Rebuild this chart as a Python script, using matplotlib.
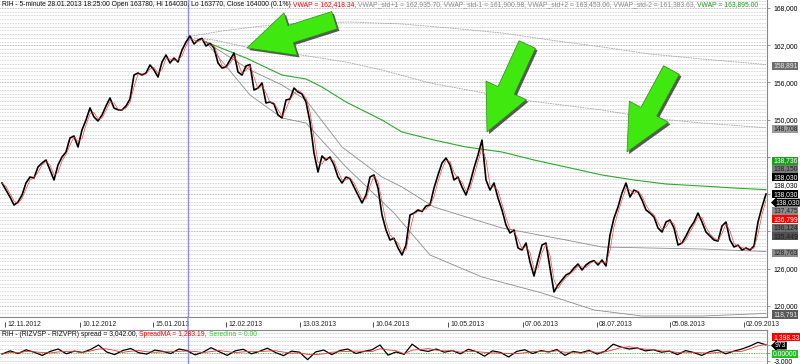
import numpy as np
import pandas as pd
import matplotlib
matplotlib.use("Agg")
import matplotlib.pyplot as plt
import matplotlib.patheffects as pe
from matplotlib.patches import ConnectionPatch
from matplotlib.ticker import MultipleLocator, FuncFormatter

plt.rcParams['font.family'] = ['Liberation Sans', 'DejaVu Sans']

# RIH closes, one value per ~4px of the original 5-minute chart (thousands)
close_k = [
    139.81, 138.68, 137.55, 136.26, 136.75, 137.87, 139.81, 140.77, 140.61, 142.39,
    143.03, 143.51, 141.90, 140.29, 142.71, 144.00, 144.80, 147.06, 147.38, 145.61,
    148.35, 149.96, 151.89, 150.44, 149.80, 150.76, 152.21, 153.50, 151.89, 151.60,
    151.57, 152.21, 153.34, 157.21, 157.53, 157.21, 157.53, 158.82, 158.01, 156.88,
    159.30, 160.43, 159.14, 159.94, 159.30, 161.23, 162.52, 163.49, 162.20, 162.84,
    163.10, 161.88, 162.30, 161.56, 159.14, 158.33, 158.50, 159.62, 160.75, 157.69,
    157.20, 158.66, 158.90, 154.79, 155.11, 155.92, 152.70, 152.86, 152.53, 150.76,
    150.30, 153.18, 153.34, 155.11, 154.47, 154.15, 152.86, 149.63, 144.64, 141.58,
    144.16, 143.51, 144.00, 142.71, 140.77, 139.81, 140.77, 140.50, 139.16, 137.87,
    136.59, 137.87, 140.77, 141.10, 139.00, 134.65, 132.24, 130.62, 130.90, 129.34,
    128.21, 129.82, 134.65, 134.97, 135.46, 135.20, 136.10, 136.26, 139.00, 141.10,
    143.03, 143.83, 142.71, 140.29, 140.77, 139.16, 137.87, 139.81, 142.22, 144.32,
    146.73, 140.29, 138.68, 139.81, 137.39, 135.46, 133.04, 131.75, 132.24, 129.34,
    129.01, 130.14, 127.08, 124.83, 127.40, 129.82, 130.14, 126.11, 122.25, 123.38,
    124.18, 124.99, 125.31, 126.11, 126.76, 125.79, 126.60, 127.08, 127.30, 126.60,
    127.40, 126.44, 131.43, 134.17, 135.94, 138.20, 139.81, 137.55, 138.68, 138.36,
    137.07, 135.46, 134.97, 134.33, 132.56, 131.91, 133.52, 133.85, 132.56, 129.82,
    130.14, 131.27, 132.56, 133.52, 134.97, 133.52, 131.91, 131.27, 130.62, 130.46,
    132.88, 133.52, 130.62, 129.50, 129.80, 129.01, 129.34, 129.01, 129.66, 133.52,
    135.94, 138.03,
]

date_labels = ['12.11.2012', '10.12.2012', '15.01.2013', '12.02.2013', '13.03.2013',
               '10.04.2013', '10.05.2013', '07.06.2013', '08.07.2013', '05.08.2013',
               '02.09.2013']
date_bars = [0.75, 19.5, 37.75, 56, 74.5, 92.75, 111.5, 130.25, 148.75, 167, 185.5]
cursor_bar = 46.5

# anchored VWAP and its deviation bands
vwap_bars = [51, 61, 70, 76, 80, 86, 95, 100, 108, 116, 125, 133, 141, 150, 158, 166, 175, 183, 191]
vwap = [162523, 159945, 157206, 156562, 155273, 152857, 149957, 148024, 146735, 145607,
        144802, 143513, 142385, 141097, 140291, 139646, 139324, 139002, 138736]

std_p2_bars = [46, 55, 65, 75, 87, 100, 112, 125, 137, 150, 162, 175, 191]
std_p2 = [163328, 164295, 165100, 165584, 165745, 165422, 164778, 163973, 162845,
          161717, 160589, 159784, 158891]

std_p1_bars = [48, 53, 61, 70, 78, 86, 95, 107, 130, 150, 162, 175, 191]
std_p1 = [163167, 162845, 161717, 160912, 160106, 159301, 158012, 155918, 153179,
          151568, 150279, 149474, 148708]

std_m1_bars = [51, 62, 70, 76, 85, 95, 100, 108, 125, 141, 150, 162, 175, 191]
std_m1 = [162523, 158012, 155595, 153179, 145607, 140774, 139163, 135941, 132558,
          130625, 129497, 129336, 129174, 128763]

std_m2_bars = [51, 62, 70, 76, 86, 98, 107, 120, 135, 148, 160, 175, 191]
std_m2 = [162523, 153984, 150279, 149474, 142385, 134975, 128209, 124665, 122087,
          119348, 118381, 118381, 118791]

# last-value markers on the price scale
mark_values = [158891, 148708, 138736, 138150, 138030, 138030, 138030, 138030,
               137475, 136799, 136124, 135449, 128763, 118791]
mark_faces = ['#6e6e6e', '#9c9c9c', '#1e9e1e', '#7c7c7c', '#000000', '#ffffff', '#000000',
              '#000000', '#8c8c8c', '#ff0000', '#6c6c6c', '#505050', '#8c8c8c', '#5a5a5a']
mark_text = ['#e8e8e8', '#202020', 'white', '#202020', 'white', 'black', 'white',
             'white', '#202020', 'white', '#202020', '#202020', '#202020', '#e0e0e0']
last_price_mark = 7

# spread RIZVSP - RIZVPR
spread = [
    -400, 800, -200, 1200, 300, -900, 600, 1500, -300, 700,
    200, 1300, 3000, 400, -600, 900, 1700, 100, -400, 1100,
    600, -200, 1500, 900, -700, 300, 2000, 500, -900, 800,
    1400, -300, 600, 1800, 200, -1000, 700, 300, -2500, 400,
    1100, -600, 900, 1500, -200, 600, 1200, 3000, -800, 400,
    -500, 3300, 1100, 600, 1500, 300, 900, -300, 1400, 500,
    -1200, 800, 200, -1500, 600, 1200, -200, 900, 400, 1300,
    -900, 600, 100, 1000, -400, 700, 3300, 2200, 1500, 1900,
    800, 1200, 300, 700, -600, 900, 200, -900, 500, 1100,
    -300, 700, 1500, 2600, 4000, 3042,
]
spread_marks = [1398.33, 973, 0.0]
spread_mark_texts = ['1,398.33', '973', '0.00000']
spread_mark_faces = ['#ff0000', '#000000', '#22bb22']

# arrows: (bar, price) target, tail offset in points
arrow_tips = [(61.25, 161560), (121.25, 148020), (156.25, 144800)]
arrow_tails = [(63, 20), (29, 63), (32, 59)]

FS = 4.9
HFS = 4.85
GRAY = '#888888'
SLOT = 8.4


def stack_positions(ax, values, h, mode='center'):
    """Spread overlapping value labels apart, in display pixels."""
    pts = np.column_stack([np.zeros(len(values)), values])
    ys = ax.transData.transform(pts)[:, 1]
    order = sorted(range(len(values)), key=lambda i: -ys[i])
    groups = [[i] for i in order]

    def place(g):
        n = len(g)
        if mode == 'up':
            base = ys[g[-1]]
            return [base + (n - 1 - k) * h for k in range(n)]
        c = np.mean([ys[i] for i in g])
        return [c + ((n - 1) / 2 - k) * h for k in range(n)]

    merged = True
    while merged:
        merged = False
        for j in range(len(groups) - 1):
            if place(groups[j])[-1] - place(groups[j + 1])[0] < h:
                groups[j] = groups[j] + groups[j + 1]
                del groups[j + 1]
                merged = True
                break
    out = {}
    for g in groups:
        for i, y in zip(g, place(g)):
            out[i] = y
    return [out[i] for i in range(len(values))]


def value_labels(ax, values, texts, faces, tcolors, arrow_idx, mode='center'):
    ys = stack_positions(ax, values, SLOT, mode)
    inv = ax.transAxes.inverted()
    for i, y in enumerate(ys):
        yf = inv.transform((0, y))[1]
        style = 'larrow,pad=0.06' if i == arrow_idx else 'square,pad=0.08'
        dx = 8 if i == arrow_idx else 6
        ax.annotate(texts[i], xy=(1, yf), xycoords='axes fraction',
                    xytext=(dx, 0), textcoords='offset pixels',
                    ha='left', va='center_baseline', fontsize=FS, color=tcolors[i],
                    bbox=dict(boxstyle=style, fc=faces[i], ec='none'),
                    annotation_clip=False, zorder=10)
    # tick labels sitting under a marker box stay hidden, as in the terminal
    hidden = set()
    for t in ax.get_yticks():
        ty = ax.transData.transform((0, t))[1]
        if min(abs(ty - y) for y in ys) < SLOT * 0.8:
            hidden.add(round(t))
    ax.yaxis.set_major_formatter(
        FuncFormatter(lambda v, p: '' if round(v) in hidden else f'{v:,.0f}'))


def header(ax, parts, dy):
    prev = ax.annotate(parts[0][0], xy=(0, 1), xycoords='axes fraction',
                       xytext=(2, dy), textcoords='offset pixels',
                       ha='left', va='top', fontsize=HFS, color=parts[0][1], zorder=12)
    for txt, col in parts[1:]:
        prev = ax.annotate(txt, xy=(1, 0), xycoords=prev, ha='left', va='bottom',
                           fontsize=HFS, color=col, zorder=12)


fig = plt.figure(figsize=(8, 3.64), dpi=100)
ax = fig.add_axes([0, 47 / 364, 767 / 800, 317 / 364])
ax2 = fig.add_axes([0, -2 / 364, 767 / 800, 36 / 364])

close = np.array(close_k) * 1000
bars = np.arange(len(close))
ma = pd.Series(close).rolling(2, min_periods=1).mean()

# --- main panel
ax.set_xlim(-0.5, 191.25)
ax.set_ylim(118220, 169290)
ax.yaxis.set_major_locator(MultipleLocator(6000))
ax.yaxis.set_minor_locator(MultipleLocator(600))
ax.yaxis.tick_right()
ax.tick_params(axis='y', which='major', direction='out', length=2.2, width=0.6,
               color=GRAY, pad=2.6, labelsize=FS)
ax.tick_params(axis='y', which='minor', length=0)
ax.set_xticks([])
ax.grid(True, axis='y', which='minor', color='#b4b4b4', lw=0.6, ls=(0, (0.72, 1.2)))
ax.grid(True, axis='y', which='major', color='#808080', lw=0.6, ls=(0, (0.72, 1.2)))
ax.set_axisbelow(True)
for s in ['top', 'left']:
    ax.spines[s].set_visible(False)
for s in ['right', 'bottom']:
    ax.spines[s].set_color(GRAY)
    ax.spines[s].set_linewidth(0.8)

ax.plot(std_p2_bars, std_p2, color='#a0a0a0', lw=0.6, ls=(0, (2, 1)))
ax.plot(std_p1_bars, std_p1, color='#a0a0a0', lw=0.6, ls=(0, (2, 1)))
ax.plot(std_m1_bars, std_m1, color='#8c8c8c', lw=0.6)
ax.plot(std_m2_bars, std_m2, color='#8c8c8c', lw=0.6)
ax.plot(vwap_bars, vwap, color='#2aaa2a', lw=0.8)
ax.axvline(cursor_bar, color='#8c8cff', lw=1)
ax.plot(bars, close, color='black', lw=1.2, zorder=4)
ax.plot(bars, ma, color='#ff3030', lw=0.45, zorder=5)

# date scale under the main panel
for b, lab in zip(date_bars, date_labels):
    ax.annotate(lab, xy=(b, 0), xycoords=('data', 'axes fraction'),
                xytext=(2, -7), textcoords='offset pixels',
                ha='left', va='center', fontsize=FS, color='#222222',
                annotation_clip=False)
ax.vlines(date_bars, -0.031, -0.016, transform=ax.get_xaxis_transform(),
          colors='#333333', lw=0.6, clip_on=False)

for tip, tail in zip(arrow_tips, arrow_tails):
    ax.annotate('', xy=tip, xytext=tail, textcoords='offset points',
                xycoords='data', zorder=8,
                arrowprops=dict(arrowstyle='simple,head_length=3.3,head_width=3.2,tail_width=1.3',
                                mutation_scale=10, fc='#3fe80e', ec='#2a8a10', lw=0.5,
                                shrinkA=0, shrinkB=0,
                                path_effects=[pe.withSimplePatchShadow(
                                    offset=(1.5, -1.5), shadow_rgbFace='#303030', alpha=0.8)]))

header(ax, [
    ('RIH - 5-minute 28.01.2013 18:25:00 Open 163780, Hi 164030, Lo 163770, Close 164000 (0.1%) ', '#111111'),
    ('VWAP = 162,418.34, ', '#ff0000'),
    ('VWAP_std+1 = 162,935.70, VWAP_std-1 = 161,900.98, VWAP_std+2 = 163,453.06, VWAP_std-2 = 161,383.63, ', '#8a8a8a'),
    ('VWAP = 163,895.00', '#1e9e1e'),
], -1)

value_labels(ax, mark_values, [f'{v:,.0f}' for v in mark_values],
             mark_faces, mark_text, last_price_mark)

# --- spread panel
sp = np.array(spread, dtype=float)
sp_bars = np.linspace(0, len(close) - 1, len(sp))
sp_ma = pd.Series(sp).rolling(3, min_periods=1).mean()

ax2.set_xlim(-0.5, 191.25)
ax2.set_ylim(-4875, 8625)
ax2.set_xticks([])
ax2.set_yticks([-3000, 0, 3000])
ax2.yaxis.set_minor_locator(MultipleLocator(1500))
ax2.yaxis.tick_right()
ax2.tick_params(axis='y', which='major', direction='out', length=2.2, width=0.6,
                color=GRAY, pad=2.6, labelsize=FS)
ax2.tick_params(axis='y', which='minor', length=0)
ax2.grid(True, axis='y', which='both', color='#b4b4b4', lw=0.6, ls=(0, (0.72, 1.2)))
ax2.set_axisbelow(True)
for s in ['bottom', 'left']:
    ax2.spines[s].set_visible(False)
for s in ['right', 'top']:
    ax2.spines[s].set_color(GRAY)
    ax2.spines[s].set_linewidth(0.8)

ax2.axhline(0, color='#33cc33', lw=0.7, ls=(0, (1, 1.5)))
ax2.axvline(cursor_bar, color='#8c8cff', lw=1)
ax2.plot(sp_bars, sp, color='black', lw=0.9, zorder=4)
ax2.plot(sp_bars, sp_ma, color='#ff3030', lw=0.6, zorder=5)

header(ax2, [
    ('RIH - (RIZVSP - RIZVPR) spread = 3,042.00, ', '#111111'),
    ('SpreadMA = 1,283.19, ', '#ff0000'),
    ('Seredina = 0.00', '#33cc33'),
], -1.5)

value_labels(ax2, spread_marks, spread_mark_texts, spread_mark_faces,
             ['white', 'white', 'white'], 1, mode='up')

# cursor line through the date strip
fig.add_artist(ConnectionPatch(xyA=(cursor_bar, 0), coordsA=ax.get_xaxis_transform(),
                               xyB=(cursor_bar, 1), coordsB=ax2.get_xaxis_transform(),
                               color='#8c8cff', lw=1))

fig.savefig('out.png', dpi=100)
